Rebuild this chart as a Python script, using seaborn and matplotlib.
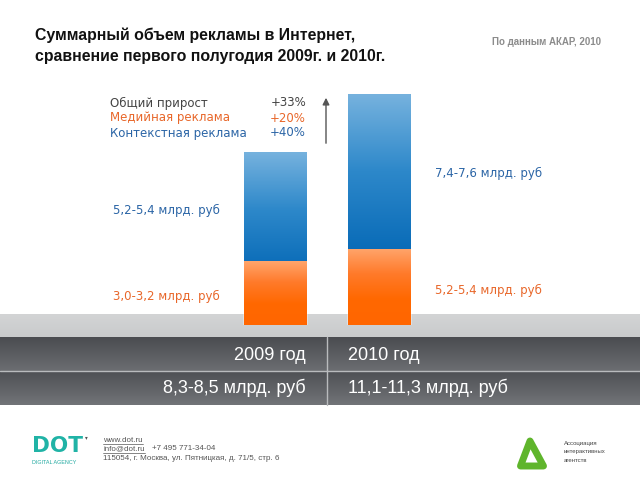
import numpy as np
import pandas as pd
import seaborn as sns
import matplotlib.pyplot as plt
from matplotlib.colors import LinearSegmentedColormap
from matplotlib.patches import Polygon

# Data (bar heights in bln rub, labels as printed on the slide)
years = ['2009', '2010']
media = [3.1, 3.7]
context = [5.3, 7.5]
media_labels = ['3,0-3,2 млрд. руб', '5,2-5,4 млрд. руб']
context_labels = ['5,2-5,4 млрд. руб', '7,4-7,6 млрд. руб']
year_labels = ['2009 год', '2010 год']
total_labels = ['8,3-8,5 млрд. руб', '11,1-11,3 млрд. руб']
growth_names = ['Общий прирост', 'Медийная реклама', 'Контекстная реклама']
growth_values = ['+33%', '+20%', '+40%']

BLUE = '#1f7cc4'
ORANGE = '#ff6a10'
BLUE_TXT = '#2b65a6'
ORANGE_TXT = '#e8672a'
GREY_TXT = '#444444'


def vgrad(ax, extent, colors, **kw):
    '''Vertical gradient image, first colour on top.'''
    cmap = LinearSegmentedColormap.from_list('g', colors)
    img = np.linspace(0, 1, 256).reshape(-1, 1)
    return ax.imshow(img, extent=extent, aspect='auto', cmap=cmap,
                     origin='upper', **kw)


sns.set_theme(style='white')
plt.rcParams['font.family'] = ['Liberation Sans', 'DejaVu Sans']

fig = plt.figure(figsize=(6.4, 4.8), dpi=100)
fig.patch.set_facecolor('white')

# background axes in pixel units for the slide decoration
bg = fig.add_axes([0, 0, 1, 1], zorder=0)
bg.set_xlim(0, 640)
bg.set_ylim(480, 0)
bg.axis('off')

# light grey strip under the bars
vgrad(bg, [0, 640, 337, 314], ['#d3d4d5', '#c9cbcc'])
# dark table rows
vgrad(bg, [0, 640, 371, 337], ['#4a4c50', '#6c6e72'])
vgrad(bg, [0, 640, 405, 371], ['#4e5054', '#727478'])
bg.plot([0, 640], [371, 371], color='#b9bbbd', lw=1)
bg.plot([327, 327], [337, 405], color='#b9bbbd', lw=1)

for i in range(2):
    ha = 'right' if i == 0 else 'left'
    x = 306 if i == 0 else 348
    bg.text(x, 355, year_labels[i], color='white', fontsize=13,
            ha=ha, va='center')
    bg.text(x, 388, total_labels[i], color='white', fontsize=13,
            ha=ha, va='center')

# titles
bg.text(35, 35, 'Суммарный объем рекламы в Интернет,', fontsize=11.4,
        fontweight='bold', color='#111111', va='center')
bg.text(35, 56, 'сравнение первого полугодия 2009г. и 2010г.', fontsize=11.4,
        fontweight='bold', color='#111111', va='center')
bg.text(492, 42, 'По данным АКАР, 2010', fontsize=7, fontweight='bold',
        color='#8c8c8c', va='center')

# growth block
txt_colors = [GREY_TXT, ORANGE_TXT, BLUE_TXT]
for i, (name, val) in enumerate(zip(growth_names, growth_values)):
    y = 103 + 15 * i
    bg.text(110, y, name, color=txt_colors[i], fontsize=8.5,
            family='DejaVu Sans', va='center')
    bg.text(306, y, val, color=txt_colors[i], fontsize=8.5,
            family='DejaVu Sans', va='center', ha='right')
bg.annotate('', xy=(326, 95), xytext=(326, 146),
            arrowprops=dict(arrowstyle='-|>', color='#555555', lw=1,
                            mutation_scale=10))

# value labels beside the bars
lab_kw = dict(fontsize=8.5, family='DejaVu Sans', va='center', ha='right')
bg.text(220, 210, context_labels[0], color=BLUE_TXT, **lab_kw)
bg.text(220, 296, media_labels[0], color=ORANGE_TXT, **lab_kw)
bg.text(542, 173, context_labels[1], color=BLUE_TXT, **lab_kw)
bg.text(542, 290, media_labels[1], color=ORANGE_TXT, **lab_kw)

# footer
bg.text(32, 446, 'DOT', fontsize=15.5, fontweight='heavy', color='#20b3a6',
        va='center', family='DejaVu Sans')
bg.text(32, 462, 'DIGITAL AGENCY', fontsize=3.9, color='#20a9a0',
        va='center')
bg.text(85, 438, '▾', fontsize=4, color='#555555', va='center',
        family='DejaVu Sans')
foot = [
    (103, 440, 'www.dot.ru', True),
    (103, 449, 'info@dot.ru', True),
    (152, 449, '+7 495 771-34-04', False),
    (103, 459, '115054, г. Москва, ул. Пятницкая, д. 71/5, стр. 6', False),
]
foot_txt = []
for x, y, s, u in foot:
    t = bg.text(x, y, s, fontsize=5.8, color='#555555', va='center')
    foot_txt.append((t, u, y))

tri = Polygon([[530, 441], [520.5, 466], [543.5, 466]], closed=True,
              fill=False, edgecolor='#5fb52c', lw=5, joinstyle='round')
bg.add_patch(tri)
for i, s in enumerate(['Ассоциация', 'интерактивных', 'агентств']):
    bg.text(564, 444 + 8 * i, s, fontsize=4.3, color='#444444', va='center')

# bars
ax = fig.add_axes([200 / 640, (480 - 325) / 480, 260 / 640, 247 / 480],
                  zorder=1)
ax.patch.set_alpha(0)
df = pd.DataFrame({'year': years, 'media': media, 'context': context})
df['total'] = df['media'] + df['context']
sns.barplot(data=df, x='year', y='total', color=BLUE, width=0.6,
            saturation=1, ax=ax)
n_blue = len(ax.patches)
sns.barplot(data=df, x='year', y='media', color=ORANGE, width=0.6,
            saturation=1, ax=ax)

for k, p in enumerate(ax.patches):
    x0, y0 = p.get_x(), p.get_y()
    w, h = p.get_width(), p.get_height()
    if k < n_blue:
        cols = ['#76b2de', '#2d88ca', '#0a6cb8', '#0068b5']
    else:
        cols = ['#ffa56c', '#ff7a2a', '#ff6800', '#ff6600']
    im = vgrad(ax, [x0, x0 + w, y0, y0 + h], cols, zorder=p.get_zorder() + 0.1)
    im.set_clip_path(p)

ax.set_xlim(-0.721, 1.779)
ax.set_ylim(0, 12)
ax.axis('off')

# underline the links in the footer
fig.canvas.draw()
r = fig.canvas.get_renderer()
inv = bg.transData.inverted()
for t, u, y in foot_txt:
    if u:
        bb = t.get_window_extent(r)
        (xa, _), (xb, _) = inv.transform([[bb.x0, bb.y0], [bb.x1, bb.y0]])
        bg.plot([xa, xb], [y + 3.5, y + 3.5], color='#555555', lw=0.5)

fig.savefig('out.png', dpi=100)
